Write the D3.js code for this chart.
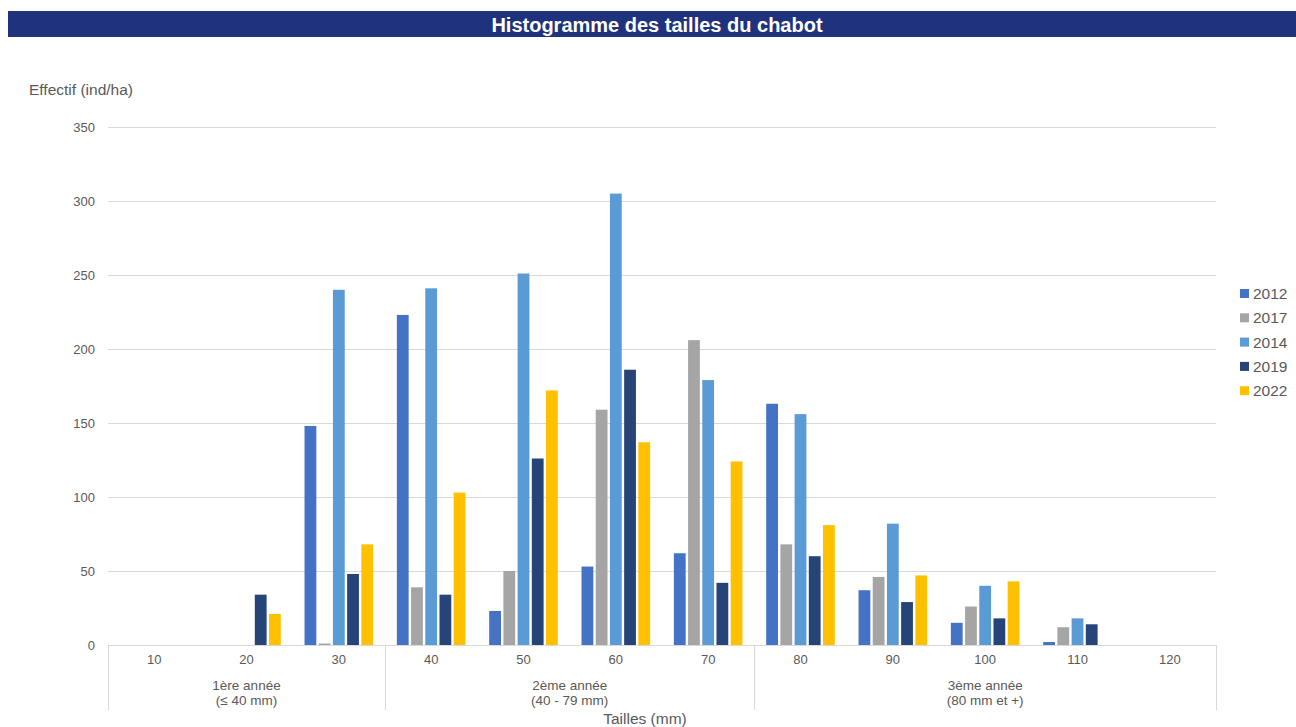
<!DOCTYPE html>
<html>
<head>
<meta charset="utf-8">
<script src="https://cdn.jsdelivr.net/npm/d3@7"></script>
<style>
  html, body { margin: 0; padding: 0; background: #ffffff; }
  svg { display: block; font-family: "Liberation Sans", Arial, sans-serif; }
</style>
</head>
<body>
<svg id="chart" width="1296" height="727"></svg>
<script>
// Size classes (mm)
const categories = ["10", "20", "30", "40", "50", "60", "70", "80", "90", "100", "110", "120"];
// Series in legend order
const seriesNames = ["2012", "2017", "2014", "2019", "2022"];
const seriesColors = ["#4472C4", "#A5A5A5", "#5B9BD5", "#264478", "#FFC000"];
// Density (ind/ha) per size class
const values2012 = [0, 0, 148, 223, 23, 53, 62, 163, 37, 15, 2, 0];
const values2017 = [0, 0, 1, 39, 50, 159, 206, 68, 46, 26, 12, 0];
const values2014 = [0, 0, 240, 241, 251, 305, 179, 156, 82, 40, 18, 0];
const values2019 = [0, 34, 48, 34, 126, 186, 42, 60, 29, 18, 14, 0];
const values2022 = [0, 21, 68, 103, 172, 137, 124, 81, 47, 43, 0, 0];
const seriesValues = [values2012, values2017, values2014, values2019, values2022];
// Age groups spanning the size classes
const groupLabels = [["1ère année", "(≤ 40 mm)"], ["2ème année", "(40 - 79 mm)"], ["3ème année", "(80 mm et +)"]];
const groupSpans = [[0, 2], [3, 6], [7, 11]];
const yTicks = [0, 50, 100, 150, 200, 250, 300, 350];

const svg = d3.select("#chart");
const textColor = "#595959";
const gridColor = "#d9d9d9";

const margin = { left: 108, right: 1216, top: 127, bottom: 645 };

// Title banner
svg.append("rect")
  .attr("x", 8).attr("y", 11).attr("width", 1288).attr("height", 26)
  .attr("fill", "#1F327D");
svg.append("text")
  .attr("x", 657).attr("y", 31.5)
  .attr("text-anchor", "middle")
  .attr("fill", "#ffffff")
  .attr("font-size", 20).attr("font-weight", "bold")
  .text("Histogramme des tailles du chabot");

const y = d3.scaleLinear().domain([0, 350]).range([margin.bottom, margin.top]);
const x0 = d3.scaleBand().domain(categories).range([margin.left, margin.right]).padding(0);
const bw = x0.bandwidth();
const gw = bw * 0.743;
const x1 = d3.scaleBand().domain(seriesNames)
  .range([(bw - gw) / 2, (bw + gw) / 2]).paddingInner(0.17).paddingOuter(0);

// Gridlines
svg.append("g").selectAll("line").data(yTicks).join("line")
  .attr("x1", margin.left).attr("x2", margin.right)
  .attr("y1", d => Math.round(y(d)) + 0.5).attr("y2", d => Math.round(y(d)) + 0.5)
  .attr("stroke", gridColor).attr("stroke-width", 1);

// Y axis labels
const yAxis = d3.axisLeft(y).tickValues(yTicks).tickSize(0).tickPadding(0);
const yg = svg.append("g").attr("transform", `translate(95,0)`).call(yAxis);
yg.select(".domain").remove();
yg.selectAll("text").attr("fill", textColor).attr("font-size", 13)
  .attr("font-family", "Liberation Sans, Arial, sans-serif");

svg.append("text")
  .attr("x", 29).attr("y", 95)
  .attr("fill", textColor).attr("font-size", 15.5)
  .text("Effectif (ind/ha)");

// Bars
const groups = svg.append("g").selectAll("g").data(categories).join("g")
  .attr("transform", d => `translate(${x0(d)},0)`);
groups.selectAll("rect")
  .data((c, i) => seriesNames.map((s, k) => ({ s, k, v: seriesValues[k][i] })))
  .join("rect")
  .filter(d => d.v > 0)
  .attr("x", d => x1(d.s))
  .attr("width", x1.bandwidth())
  .attr("y", d => y(d.v))
  .attr("height", d => y(0) - y(d.v))
  .attr("fill", d => seriesColors[d.k]);

// Category axis
const xAxis = d3.axisBottom(x0).tickSize(0).tickPadding(10);
const xg = svg.append("g").attr("transform", `translate(0,${margin.bottom})`).call(xAxis);
xg.select(".domain").attr("stroke", gridColor);
xg.selectAll("text").attr("fill", textColor).attr("font-size", 13)
  .attr("font-family", "Liberation Sans, Arial, sans-serif");

// Age group boxes
const boundaries = [margin.left].concat(groupSpans.map(s => x0(categories[s[1]]) + bw));
svg.append("g").selectAll("line").data(boundaries).join("line")
  .attr("x1", d => Math.round(d) + 0.5).attr("x2", d => Math.round(d) + 0.5)
  .attr("y1", margin.bottom).attr("y2", 710)
  .attr("stroke", gridColor).attr("stroke-width", 1);

const gl = svg.append("g").selectAll("text").data(groupSpans).join("text")
  .attr("x", (s) => (x0(categories[s[0]]) + x0(categories[s[1]]) + bw) / 2)
  .attr("y", 690)
  .attr("text-anchor", "middle")
  .attr("fill", textColor).attr("font-size", 13.5);
gl.each(function (s, i) {
  const t = d3.select(this);
  const cx = t.attr("x");
  t.append("tspan").attr("x", cx).attr("dy", 0).text(groupLabels[i][0]);
  t.append("tspan").attr("x", cx).attr("dy", 15).text(groupLabels[i][1]);
});

svg.append("text")
  .attr("x", 645).attr("y", 724)
  .attr("text-anchor", "middle")
  .attr("fill", textColor).attr("font-size", 15.5)
  .text("Tailles (mm)");

// Legend
const legend = svg.append("g").attr("transform", "translate(1240,289)");
const li = legend.selectAll("g").data(seriesNames).join("g")
  .attr("transform", (d, i) => `translate(0,${i * 24.3})`);
li.append("rect").attr("x", 0).attr("y", 0).attr("width", 9).attr("height", 9)
  .attr("fill", (d, i) => seriesColors[i]);
li.append("text").attr("x", 13).attr("y", 10)
  .attr("fill", textColor).attr("font-size", 15.5)
  .text(d => d);
</script>
</body>
</html>
